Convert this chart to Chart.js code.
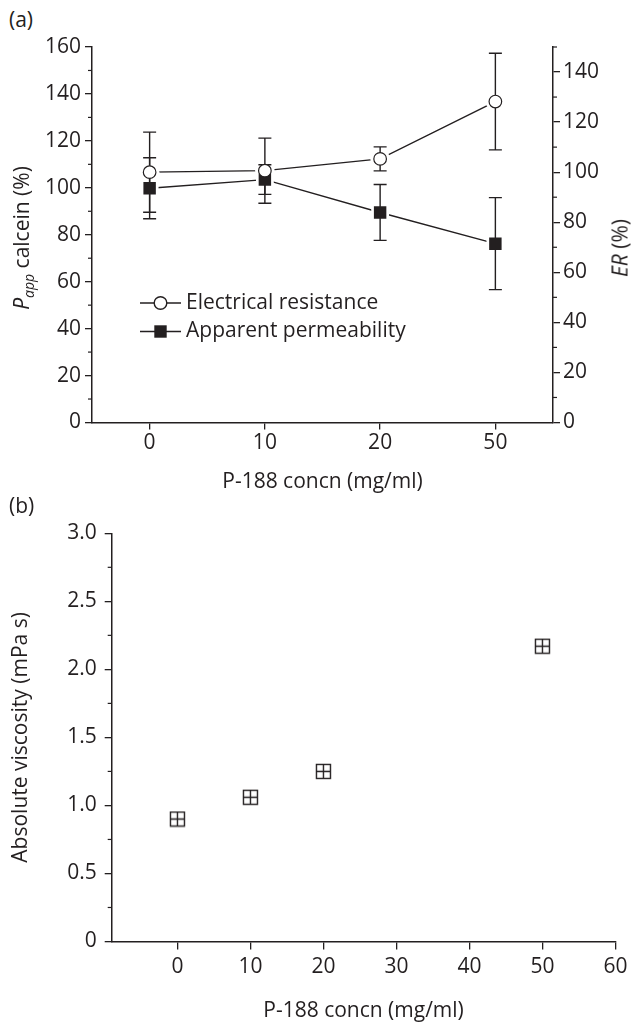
<!DOCTYPE html>
<html lang="en">
  <head>
    <meta charset="UTF-8">
    <title>P-188 concentration: permeability, resistance and viscosity</title>
    <script src="https://cdn.jsdelivr.net/npm/chart.js"></script>
    <style>
      body {
        margin: 0;
        background: #fff;
        color: #231f20;
        font-family: 'Open Sans', sans-serif
      }

      #page {
        position: relative;
        width: 632px;
        height: 1024px;
        overflow: hidden
      }

      .box {
        position: absolute;
        left: 0;
        width: 632px
      }

      .panel {
        position: absolute;
        left: 9px;
        font-size: 21px;
        line-height: 1;
        transform: translateY(-50%)
      }

      .ytitle {
        position: absolute;
        font-size: 21px;
        white-space: nowrap;
        line-height: 1;
        transform: translate(-50%, -50%) rotate(-90deg)
      }

      .ytitle sub {
        font-size: 14px;
        font-style: italic;
        vertical-align: -5px;
        line-height: 0
      }
    </style>
  </head>
  <body>
    <div id="page">
      <div class="panel" style="top:19px">(a)</div>
      <div class="box" style="top:0;height:500px"><canvas id="chart-a"></canvas></div>
      <div class="ytitle" style="left:21px;top:238px"><i>P</i><sub>app</sub> calcein (%)</div>
      <div class="ytitle" style="left:620px;top:248px"><i>ER</i> (%)</div>
      <div class="panel" style="top:505px">(b)</div>
      <div class="box" style="top:510px;height:514px"><canvas id="chart-b"></canvas></div>
    </div>
    <script>
      // panel (a)
      const concLabels = ['0', '10', '20', '50'];
      const erMean = [100, 100.6, 105.3, 128.2];
      const erErr = [16, 13, 4.8, 19.3];
      const pappMean = [99.8, 103.5, 89.5, 76.2];
      const pappErr = [13, 6.3, 11.9, 19.6];
      const leftTicks = [0, 20, 40, 60, 80, 100, 120, 140, 160];
      const rightTicks = [0, 20, 40, 60, 80, 100, 120, 140];

      // panel (b)
      const viscConc = [0, 10, 20, 50];
      const viscosity = [0.90, 1.06, 1.25, 2.17];
      const concTicks = [0, 10, 20, 30, 40, 50, 60];

      const ink = '#231f20';
      const family = "'Open Sans', sans-serif";
      const font = { family: family, size: 21 };

      function keepTicks(list) {
        return scale => {
          scale.ticks = list.map(v => ({ value: v }));
        };
      }

      // short unlabelled ticks between the labelled ones
      const minorTicks = {
        id: 'minorTicks',
        afterDraw(chart, args, opts) {
          const ctx = chart.ctx;
          ctx.save();
          ctx.strokeStyle = ink;
          ctx.lineWidth = 1.2;
          for (const id in opts.steps) {
            const s = chart.scales[id];
            const [minor, major] = opts.steps[id];
            for (let v = s.min; v <= s.max + 1e-9; v += minor) {
              const r = v / major;
              if (Math.abs(r - Math.round(r)) < 1e-6) continue;
              const p = s.getPixelForValue(v);
              ctx.beginPath();
              if (s.position === 'left') {
                ctx.moveTo(s.right - 4, p);
                ctx.lineTo(s.right, p);
              } else {
                ctx.moveTo(s.left, p);
                ctx.lineTo(s.left + 4, p);
              }
              ctx.stroke();
            }
          }
          ctx.restore();
        }
      };

      // error bars, drawn after the lines and before the markers
      const errorBars = {
        id: 'errorBars',
        afterDatasetDraw(chart, args, opts) {
          if (args.index !== opts.after) return;
          const ctx = chart.ctx;
          ctx.save();
          ctx.strokeStyle = ink;
          ctx.lineWidth = 1.4;
          opts.bars.forEach(b => {
            const ds = chart.data.datasets[b.dataset];
            const meta = chart.getDatasetMeta(b.dataset);
            const ys = chart.scales[ds.yAxisID];
            meta.data.forEach((pt, i) => {
              const top = ys.getPixelForValue(ds.data[i] + b.err[i]);
              const bot = ys.getPixelForValue(ds.data[i] - b.err[i]);
              ctx.beginPath();
              ctx.moveTo(pt.x, top);
              ctx.lineTo(pt.x, bot);
              ctx.moveTo(pt.x - 6.5, top);
              ctx.lineTo(pt.x + 6.5, top);
              ctx.moveTo(pt.x - 6.5, bot);
              ctx.lineTo(pt.x + 6.5, bot);
              ctx.stroke();
            });
          });
          ctx.restore();
        }
      };

      // legend sitting inside the plot area
      const innerLegend = {
        id: 'innerLegend',
        afterDraw(chart) {
          const ctx = chart.ctx;
          const a = chart.chartArea;
          const x0 = a.left + 48, x1 = a.left + 89, xm = a.left + 68.5;
          const rows = [a.top + 256, a.top + 284.5];
          ctx.save();
          ctx.strokeStyle = ink;
          ctx.lineWidth = 1.4;
          rows.forEach(y => {
            ctx.beginPath();
            ctx.moveTo(x0, y);
            ctx.lineTo(x1, y);
            ctx.stroke();
          });
          ctx.fillStyle = '#fff';
          ctx.beginPath();
          ctx.arc(xm, rows[0], 6.3, 0, Math.PI * 2);
          ctx.fill();
          ctx.stroke();
          ctx.fillStyle = ink;
          ctx.fillRect(xm - 6.2, rows[1] - 6.2, 12.4, 12.4);
          ctx.font = '21px ' + family;
          ctx.textBaseline = 'middle';
          ctx.fillText('Electrical resistance', a.left + 94, rows[0]);
          ctx.fillText('Apparent permeability', a.left + 94, rows[1]);
          ctx.restore();
        }
      };

      const axisGrid = len => ({
        drawOnChartArea: false,
        offset: false,
        color: ink,
        lineWidth: 1.3,
        tickLength: len
      });
      const axisBorder = { color: ink, width: 1.5 };

      new Chart(document.getElementById('chart-a'), {
        type: 'line',
        data: {
          labels: concLabels,
          datasets: [{
            label: 'Electrical resistance',
            data: erMean,
            yAxisID: 'yR',
            order: 0,
            showLine: false,
            pointStyle: 'circle',
            pointRadius: 6.3,
            pointBorderWidth: 1.2,
            pointBackgroundColor: '#fff',
            pointBorderColor: ink
          }, {
            label: 'Apparent permeability',
            data: pappMean,
            yAxisID: 'y',
            order: 0,
            showLine: false,
            pointStyle: 'rect',
            pointRadius: 8.8,
            pointBorderWidth: 0,
            pointBackgroundColor: ink
          }, {
            label: 'Electrical resistance line',
            data: erMean,
            yAxisID: 'yR',
            order: 1,
            borderColor: ink,
            borderWidth: 1.4,
            tension: 0,
            pointStyle: 'circle',
            pointRadius: 9.8,
            pointBorderWidth: 0,
            pointBackgroundColor: '#fff'
          }, {
            label: 'Apparent permeability line',
            data: pappMean,
            yAxisID: 'y',
            order: 1,
            borderColor: ink,
            borderWidth: 1.4,
            tension: 0,
            pointStyle: 'rect',
            pointRadius: 12.6,
            pointBorderWidth: 0,
            pointBackgroundColor: '#fff'
          }]
        },
        options: {
          responsive: true,
          maintainAspectRatio: false,
          animation: false,
          events: [],
          layout: { padding: { top: 47, left: 0, right: 0, bottom: 0 } },
          plugins: {
            legend: { display: false },
            tooltip: { enabled: false },
            minorTicks: { steps: { y: [10, 20], yR: [10, 20] } },
            errorBars: {
              after: 2,
              bars: [{ dataset: 0, err: erErr }, { dataset: 1, err: pappErr }]
            }
          },
          scales: {
            x: {
              type: 'category',
              offset: true,
              grid: axisGrid(7),
              border: axisBorder,
              ticks: { font: font, color: ink, padding: 1.2, maxRotation: 0 },
              title: {
                display: true,
                text: 'P-188 concn (mg/ml)',
                font: font,
                color: ink,
                padding: { top: 0, bottom: 5.4 }
              },
              afterFit: s => { s.height = 77.5; }
            },
            y: {
              position: 'left',
              min: 0,
              max: 160,
              grid: axisGrid(7),
              border: axisBorder,
              ticks: { font: font, color: ink, padding: 4 },
              afterBuildTicks: keepTicks(leftTicks),
              afterFit: s => { s.width = 92; }
            },
            yR: {
              position: 'right',
              min: 0,
              max: 150,
              grid: axisGrid(7),
              border: axisBorder,
              ticks: { font: font, color: ink, padding: 3 },
              afterBuildTicks: keepTicks(rightTicks),
              afterFit: s => { s.width = 79; }
            }
          }
        },
        plugins: [minorTicks, errorBars, innerLegend]
      });

      // square-with-cross marker for panel (b)
      const boxCross = document.createElement('canvas');
      boxCross.width = 17;
      boxCross.height = 17;
      (function () {
        const c = boxCross.getContext('2d');
        c.strokeStyle = ink;
        c.lineWidth = 1.4;
        c.strokeRect(1.5, 1.5, 14, 14);
        c.beginPath();
        c.moveTo(8.5, 1.5);
        c.lineTo(8.5, 15.5);
        c.moveTo(1.5, 8.5);
        c.lineTo(15.5, 8.5);
        c.stroke();
      })();

      new Chart(document.getElementById('chart-b'), {
        type: 'scatter',
        data: {
          datasets: [{
            label: 'Absolute viscosity',
            data: viscConc.map((c, i) => ({ x: c, y: viscosity[i] })),
            pointStyle: boxCross,
            pointRadius: 8
          }]
        },
        options: {
          responsive: true,
          maintainAspectRatio: false,
          animation: false,
          events: [],
          layout: { padding: { top: 23.3, left: 0, right: 12, bottom: 0 } },
          plugins: {
            legend: { display: false },
            tooltip: { enabled: false },
            minorTicks: { steps: { y: [0.25, 0.5] } }
          },
          scales: {
            x: {
              type: 'linear',
              min: -9,
              max: 60,
              grid: axisGrid(8),
              border: axisBorder,
              ticks: { font: font, color: ink, padding: 4.6, maxRotation: 0 },
              afterBuildTicks: keepTicks(concTicks),
              title: {
                display: true,
                text: 'P-188 concn (mg/ml)',
                font: font,
                color: ink,
                padding: { top: 0, bottom: 0 }
              },
              afterFit: s => { s.height = 82.5; }
            },
            y: {
              min: 0,
              max: 3,
              grid: axisGrid(7),
              border: axisBorder,
              ticks: {
                font: font,
                color: ink,
                padding: 8,
                stepSize: 0.5,
                callback: v => v === 0 ? '0' : v.toFixed(1)
              },
              title: {
                display: true,
                text: 'Absolute viscosity (mPa s)',
                font: font,
                color: ink,
                padding: { top: 8.4, bottom: 0 }
              },
              afterFit: s => { s.width = 111.7; }
            }
          }
        },
        plugins: [minorTicks]
      });
    </script>
  </body>
</html>
